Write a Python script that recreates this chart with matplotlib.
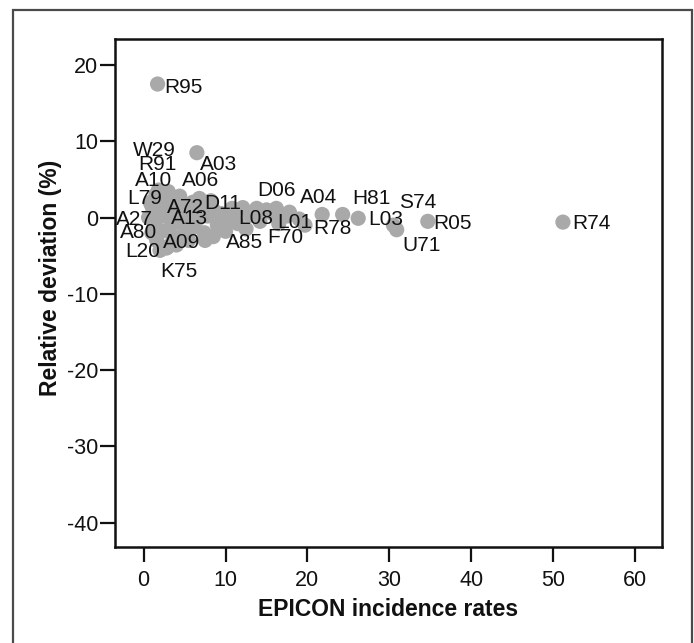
import matplotlib
matplotlib.use("Agg")
import matplotlib.pyplot as plt
from matplotlib.patches import Rectangle

plt.rcParams['font.family'] = ['Liberation Sans', 'DejaVu Sans']
plt.rcParams['axes.unicode_minus'] = False

# Labelled diagnosis codes: EPICON incidence rate vs. relative deviation (%)
codes = ["R95", "A03", "W29", "R91", "A10", "L79", "A27", "A80", "L20", "K75",
         "A09", "A13", "A72", "A06", "D11", "A85", "L08", "D06", "L01", "F70",
         "R78", "A04", "H81", "L03", "S74", "U71", "R05", "R74"]
code_rate = [1.7, 6.5, 2.0, 1.5, 2.8, 1.0, 0.6, 1.0, 2.0, 3.0,
             4.5, 4.0, 5.0, 6.8, 8.5, 8.5, 13.0, 15.0, 17.5, 16.5,
             19.7, 21.8, 24.3, 26.2, 30.5, 30.9, 34.7, 51.2]
code_dev = [17.5, 8.5, 3.5, 3.0, 3.0, 1.5, 0.0, -2.0, -4.3, -3.8,
            -2.5, 0.0, 1.5, 2.5, 1.0, -2.5, 0.3, 1.0, 0.2, -0.8,
            -1.0, 0.4, 0.4, -0.1, -1.0, -1.6, -0.5, -0.6]

# Remaining (unlabelled) codes
other_rate = [0.8, 1.2, 1.4, 1.6, 2.2, 2.4, 2.6, 3.2, 3.4, 3.6, 3.8, 4.4, 4.8,
              5.2, 5.6, 6.0, 6.2, 6.6, 7.0, 7.4, 7.8, 8.2, 9.0, 9.5, 10.2,
              10.8, 11.5, 12.1, 12.5, 13.8, 14.2, 15.8, 16.2, 17.8, 19.0,
              5.5, 4.0, 2.8, 7.5, 10.0, 11.0, 1.8, 3.0]
other_dev = [2.0, 0.8, -1.0, -3.0, -1.8, 0.2, 1.8, 2.4, -1.0, -2.8, 1.0, 2.8,
             -0.8, -1.8, 0.5, 2.0, -1.2, -0.2, 1.2, -2.0, 0.2, 2.2, -1.0, 0.5,
             -0.3, 1.2, -0.8, 1.3, -1.5, 1.2, -0.5, 0.5, 1.2, 0.7, -0.2,
             -3.0, -3.6, -4.0, -3.0, -1.8, 0.0, 3.6, 3.4]

# Label placement (offset in pixels from each point)
label_offset = {
    "R95": (7, -3), "A03": (3, -12), "W29": (-27, 40), "R91": (-18, 30),
    "A10": (-32, 14), "L79": (-25, 8), "A27": (-33, -2), "A80": (-32, 0),
    "L20": (-35, -1), "K75": (-8, -25), "A09": (-18, -6), "A13": (-5, -1),
    "A72": (-18, -1), "A06": (-17, 18), "D11": (-9, 6), "A85": (13, -6),
    "L08": (-12, -3), "D06": (-9, 19), "L01": (-10, -6), "F70": (-12, -14),
    "R78": (8, -3), "A04": (-22, 17), "H81": (10, 16), "L03": (10, -1),
    "S74": (6, 23), "U71": (6, -16), "R05": (5, -2), "R74": (9, -1),
}

x_ticks = [0, 10, 20, 30, 40, 50, 60]
y_ticks = [-40, -30, -20, -10, 0, 10, 20]

fig = plt.figure(figsize=(6.94, 6.43), dpi=100)
fig.patches.append(Rectangle((13 / 694, -0.05), (692 - 13) / 694, 1.05 - 10 / 643,
                             transform=fig.transFigure, fill=False,
                             edgecolor='#4a4a4a', linewidth=1.6, zorder=0))

ax = fig.add_axes([0.1657, 0.1498, 0.9539 - 0.1657, 0.9393 - 0.1498])
dot_color = '#a9a9a9'
ax.scatter(other_rate, other_dev, s=120, color=dot_color, edgecolors='none', zorder=2)
ax.scatter(code_rate, code_dev, s=120, color=dot_color, edgecolors='none', zorder=2)

for c, x, y in zip(codes, code_rate, code_dev):
    dx, dy = label_offset[c]
    ax.annotate(c, (x, y), xytext=(dx, dy), textcoords='offset pixels',
                ha='left', va='center', fontsize=15, color='#111111', zorder=3)

ax.set_xlim(-3.5, 63.3)
ax.set_ylim(-43.15, 23.4)
ax.set_xticks(x_ticks)
ax.set_yticks(y_ticks)
ax.tick_params(axis='both', direction='out', length=11, width=1.6,
               labelsize=15.5, colors='#111111')
ax.tick_params(axis='x', pad=6)
ax.tick_params(axis='y', pad=1)
for s in ax.spines.values():
    s.set_linewidth(1.8)
    s.set_color('#111111')

fig.text(388 / 694, 1 - 609 / 643, "EPICON incidence rates", ha='center', va='center',
         fontsize=16.5, fontweight='bold', color='#111111')
fig.text(51 / 694, 1 - 278 / 643, "Relative deviation (%)", ha='center', va='center',
         rotation=90, fontsize=16.5, fontweight='bold', color='#111111')

fig.savefig("out.png", dpi=100)
